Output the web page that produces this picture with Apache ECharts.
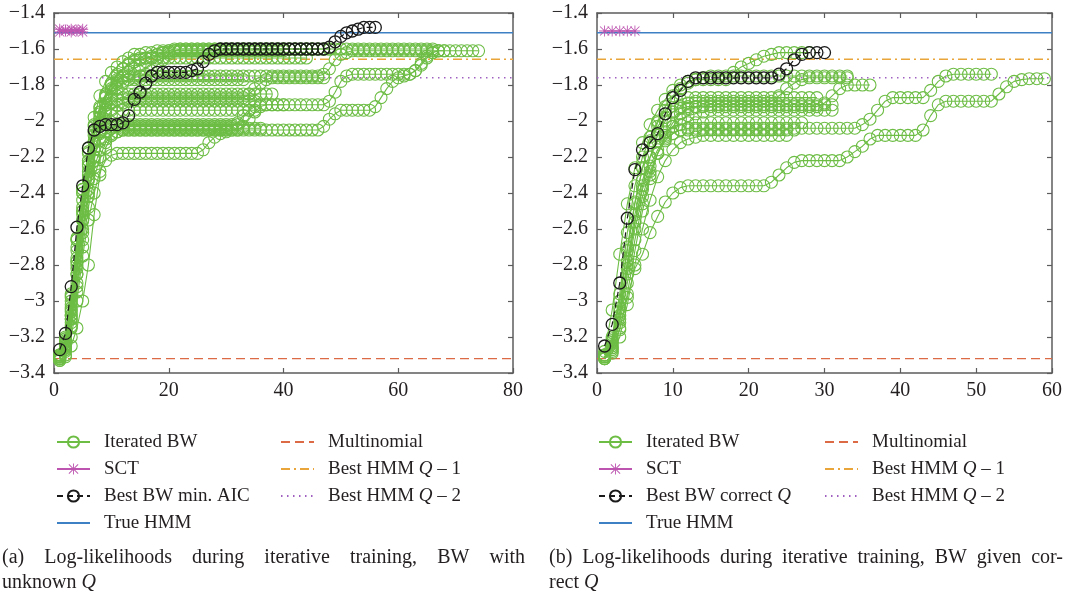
<!DOCTYPE html>
<html><head><meta charset="utf-8">
<script src="https://cdn.jsdelivr.net/npm/echarts@6/dist/echarts.min.js"></script>
<style>html,body{margin:0;padding:0;background:#fff}#c{width:1066px;height:598px}</style>
</head><body><div id="c"></div>
<script>
// ---------- axis ranges / ticks ----------
const yMin = -3.4, yMax = -1.4, yStep = 0.2;
const leftXMax = 80, leftXStep = 20;
const rightXMax = 60, rightXStep = 10;

// ---------- reference levels (both panels) ----------
const trueHMM = -1.51;
const multinomial = -3.32;
const bestQ1 = -1.657;
const bestQ2 = -1.76;

// ---------- SCT ----------
const sctLeftA = [-1.49,-1.50,-1.49,-1.50,-1.49];
const sctLeftB = [-1.505,-1.495,-1.505,-1.495,-1.505];
const sctRight = [-1.50,-1.50,-1.50,-1.50,-1.50];

// ---------- (a) best BW min. AIC ----------
const leftBest = [-3.27,-3.18,-2.92,-2.59,-2.36,-2.15,-2.05,-2.03,-2.02,-2.02,-2.02,-2.01,-1.97,-1.88,-1.84,-1.79,-1.75,-1.73,-1.73,-1.73,-1.73,-1.73,-1.73,-1.72,-1.71,-1.67,-1.63,-1.61,
-1.6,-1.6,-1.6,-1.6,-1.6, -1.6,-1.6,-1.6,-1.6,-1.6, -1.6,-1.6,-1.6,-1.6,-1.6, -1.6,-1.6,-1.6,-1.6,
-1.59,-1.56,-1.53,-1.51,-1.50,-1.49,-1.48,-1.48,-1.48];

// ---------- (a) iterated BW runs ----------
const leftA = [-3.31,-3.22,-3.00,-2.70,-2.40,-2.15,-1.98,-1.86,-1.78,-1.73,-1.70,-1.67,-1.65,-1.63,-1.63,-1.62,-1.62,-1.61,
-1.61,-1.61,-1.61,-1.61,-1.61, -1.61,-1.61,-1.61,-1.61,-1.61, -1.61,-1.61,
-1.6,-1.6,-1.6,-1.6,-1.6, -1.6,-1.6,-1.6,-1.6,-1.6, -1.6,-1.6,-1.6,-1.6,-1.6, -1.6,-1.6,-1.6];
const leftB = [-3.30,-3.24,-3.05,-2.80,-2.50,-2.25,-2.08,-1.95,-1.86,-1.79,-1.74,-1.71,-1.69,-1.67,-1.66,-1.65,-1.64,-1.63,-1.62,-1.62,
-1.61,-1.61,-1.61,-1.61,-1.61, -1.61,-1.61,-1.61,-1.61,-1.61, -1.61,-1.61,-1.61,-1.61,-1.61, -1.61,-1.61,-1.61,-1.61,-1.61];
const leftC = [-3.31,-3.25,-3.10,-2.85,-2.55,-2.30,-2.12,-1.98,-1.90,-1.83,-1.78,-1.75,-1.73,-1.71,-1.69,-1.67,-1.65,-1.63,-1.62,-1.61,
-1.6,-1.6,-1.6,-1.6,-1.6, -1.6,-1.6,-1.6,-1.6,-1.6, -1.6,-1.6,-1.6,-1.6,-1.6, -1.6,-1.6,-1.6,-1.6,-1.6,
-1.6,-1.6,-1.6,-1.6,-1.6, -1.6,-1.6,-1.6,-1.6,-1.6, -1.6,-1.6,-1.6,-1.6,-1.6, -1.6,-1.6,-1.6,-1.6,-1.6,
-1.6,-1.6,-1.6,-1.6,-1.6, -1.6];
const leftD = [-3.30,-3.20,-2.98,-2.65,-2.38,-2.18,-2.02,-1.92,-1.85,-1.80,-1.77,-1.76,
-1.75,-1.75,-1.75,-1.75,-1.75, -1.75,-1.75,-1.75,-1.75,-1.75, -1.75,-1.75,-1.75,-1.75,-1.75, -1.75,-1.75,-1.75,-1.75,-1.75,
-1.75,-1.75,-1.75,-1.75,-1.75, -1.75,-1.75,-1.75,-1.75,-1.75, -1.75,-1.75,-1.75,-1.75,
-1.74,-1.71,-1.66,-1.63,-1.62,
-1.61,-1.61,-1.61,-1.61,-1.61, -1.61,-1.61,-1.61,-1.61,-1.61, -1.61,-1.61,-1.61,-1.61,-1.61, -1.61];
const leftE = [-3.32,-3.26,-3.08,-2.78,-2.48,-2.24,-2.06,-1.95,-1.87,-1.82,-1.79,-1.78,
-1.77,-1.77,-1.77,-1.77,-1.77, -1.77,-1.77,-1.77,-1.77,-1.77, -1.77,-1.77,-1.77,-1.77,-1.77, -1.77,-1.77,-1.77,-1.77,-1.77, -1.77];
const leftF = [-3.31,-3.23,-3.02,-2.72,-2.44,-2.22,-2.06,-1.96,-1.91,-1.88,-1.86,
-1.85,-1.85,-1.85,-1.85,-1.85, -1.85,-1.85,-1.85,-1.85,-1.85, -1.85,-1.85,-1.85,-1.85,-1.85, -1.85,-1.85,-1.85,-1.85,-1.85,
-1.85,-1.85,-1.85,-1.85,-1.85, -1.85,-1.85];
const leftG = [-3.32,-3.27,-3.12,-2.90,-2.62,-2.38,-2.20,-2.07,-1.99,-1.94,-1.91,-1.90,
-1.89,-1.89,-1.89,-1.89,-1.89, -1.89,-1.89,-1.89,-1.89,-1.89, -1.89,-1.89,-1.89,-1.89,-1.89, -1.89,-1.89,-1.89,-1.89,-1.89, -1.89,-1.89,-1.89];
const leftH = [-3.31,-3.25,-3.08,-2.82,-2.55,-2.32,-2.16,-2.06,-2.00,-1.97,-1.95,
-1.94,-1.94,-1.94,-1.94,-1.94, -1.94,-1.94,-1.94,-1.94,-1.94, -1.94,-1.94,-1.94,-1.94,-1.94, -1.94,-1.94,-1.94,-1.94,-1.94, -1.94,-1.94,-1.94,-1.94];
const leftI = [-3.30,-3.21,-2.96,-2.66,-2.40,-2.22,-2.11,-2.06,-2.04,-2.03,
-2.02,-2.02,-2.02,-2.02,-2.02, -2.02,-2.02,-2.02,-2.02,-2.02, -2.02,-2.02,-2.02,-2.02,-2.02, -2.02,-2.02,-2.02,-2.02,-2.02, -2.02,-2.02];
const leftJ = [-3.32,-3.28,-3.15,-2.95,-2.70,-2.48,-2.32,-2.20,-2.12,-2.08,-2.06,
-2.05,-2.05,-2.05,-2.05,-2.05, -2.05,-2.05,-2.05,-2.05,-2.05, -2.05,-2.05,-2.05,-2.05,-2.05, -2.05,-2.05,-2.05,-2.05,-2.05, -2.05,
-2.03,-1.99,-1.95,-1.92,
-1.91,-1.91,-1.91,-1.91,-1.91, -1.91,-1.91,-1.91,-1.91,-1.91, -1.91,
-1.89,-1.84,-1.78,-1.75,
-1.74,-1.74,-1.74,-1.74,-1.74, -1.74,-1.74,-1.74,-1.74,-1.74, -1.74,
-1.72,-1.68,-1.64,-1.62,
-1.61,-1.61,-1.61,-1.61,-1.61, -1.61,-1.61,-1.61];
const leftK = [-3.33,-3.30,-3.20,-3.00,-2.75,-2.55,-2.40,-2.28,-2.22,-2.19,
-2.18,-2.18,-2.18,-2.18,-2.18, -2.18,-2.18,-2.18,-2.18,-2.18, -2.18,-2.18,-2.18,-2.18,-2.18,
-2.16,-2.12,-2.09,-2.07,-2.06,
-2.05,-2.05,-2.05,-2.05,-2.05, -2.05,-2.05,-2.05,-2.05,-2.05, -2.05,-2.05,-2.05,-2.05,-2.05, -2.05,
-2.03,-1.99,-1.96,
-1.94,-1.94,-1.94,-1.94,-1.94, -1.94,
-1.92,-1.87,-1.82,-1.78,-1.76,-1.75,-1.74,-1.72,-1.69,-1.65,-1.62,-1.61,-1.61];
const leftL = [-3.31,-3.26,-3.10,-2.85,-2.60,-2.40,-2.26,-2.16,-2.10,-2.07,-2.06,
-2.04,-2.04,-2.04,-2.04,-2.04, -2.04,-2.04,-2.04,-2.04,-2.04, -2.04,-2.04,-2.04,-2.04,-2.04, -2.04,-2.04,-2.04,-2.04,-2.04,
-2.04,-2.04,-2.04,-2.04,-2.04];
const leftM = [-3.30,-3.23,-3.04,-2.76,-2.50,-2.28,-2.12,-2.01,-1.94,-1.90,-1.88,
-1.87,-1.87,-1.87,-1.87,-1.87, -1.87,-1.87,-1.87,-1.87,-1.87, -1.87,-1.87,-1.87,-1.87,-1.87, -1.87,-1.87,-1.87,-1.87,-1.87, -1.87,-1.87,
-1.85,-1.82,-1.79,-1.77,
-1.76,-1.76,-1.76,-1.76,-1.76, -1.76,-1.76,-1.76,-1.76,-1.76];
const leftN = [-3.31,-3.24,-3.06,-2.78,-2.52,-2.33,-2.20,-2.11,-2.06,-2.04,
-2.03,-2.03,-2.03,-2.03,-2.03, -2.03,-2.03,-2.03,-2.03,-2.03, -2.03,-2.03,-2.03,-2.03,-2.03, -2.03,-2.03,-2.03,-2.03,-2.03, -2.03,
-2.01,-1.97,-1.94,-1.92,
-1.91,-1.91,-1.91,-1.91,-1.91];
const leftO = [-3.32,-3.27,-3.14,-2.92,-2.66,-2.42,-2.22,-2.06,-1.95,-1.87,-1.82,-1.79,-1.77,-1.76,-1.75,-1.74,-1.72,-1.69,-1.66,-1.63,-1.61,
-1.6,-1.6,-1.6,-1.6,-1.6, -1.6,-1.6,-1.6,-1.6,-1.6, -1.6,-1.6,-1.6,-1.6,-1.6, -1.6,-1.6,-1.6,-1.6,-1.6, -1.6,-1.6,-1.6,-1.6];
const leftP = [-3.30,-3.21,-2.97,-2.66,-2.38,-2.17,-2.03,-1.93,-1.86,-1.80,-1.75,-1.71,-1.68,-1.66,
-1.65,-1.65,-1.65,-1.65,-1.65, -1.65,-1.65,-1.65,-1.65,-1.65, -1.65,-1.65,-1.65,-1.65,-1.65, -1.65,-1.65,-1.65,-1.65,-1.65,
-1.65,-1.65,-1.65,-1.65,-1.65, -1.65,-1.65,-1.65,-1.65,-1.65];
const leftQ = [-3.33,-3.31,-3.25,-3.15,-3.00,-2.80,-2.52,-2.30,-2.15,-2.08,-2.06,
-2.05,-2.05,-2.05,-2.05,-2.05, -2.05,-2.05,-2.05,-2.05,-2.05, -2.05,-2.05,-2.05,-2.05,-2.05, -2.05,-2.05,-2.05,-2.05];

// ---------- (b) best BW correct Q ----------
const rightBest = [-3.25,-3.13,-2.90,-2.54,-2.27,-2.16,-2.12,-2.07,-1.96,-1.87,-1.83,-1.78,
-1.76,-1.76,-1.76,-1.76,-1.76, -1.76,-1.76,-1.76,-1.76,-1.76, -1.76,
-1.74,-1.71,-1.66,-1.63,-1.62,-1.62,-1.62];

// ---------- (b) iterated BW runs ----------
const right1 = [-3.31,-3.27,-3.15,-2.98,-2.82,-2.74,-2.62,-2.53,-2.45,-2.40,-2.37,
-2.36,-2.36,-2.36,-2.36,-2.36, -2.36,-2.36,-2.36,-2.36,-2.36, -2.36,
-2.34,-2.30,-2.26,-2.23,
-2.22,-2.22,-2.22,-2.22,-2.22, -2.22,
-2.20,-2.17,-2.14,-2.10,
-2.08,-2.08,-2.08,-2.08,-2.08, -2.08,
-2.05,-1.97,-1.91,
-1.89,-1.89,-1.89,-1.89,-1.89, -1.89,-1.89,
-1.85,-1.81,-1.78,-1.77,
-1.765,-1.765,-1.765];
const right2 = [-3.32,-3.26,-3.10,-2.85,-2.60,-2.42,-2.28,-2.18,-2.11,-2.07,-2.05,
-2.04,-2.04,-2.04,-2.04,-2.04, -2.04,-2.04,-2.04,-2.04,-2.04, -2.04,-2.04,-2.04,-2.04,-2.04, -2.04,-2.04,-2.04,-2.04,-2.04,
-2.04,-2.04,-2.04,
-2.02,-1.99,-1.94,-1.89,
-1.87,-1.87,-1.87,-1.87,-1.87,
-1.83,-1.78,-1.75,
-1.74,-1.74,-1.74,-1.74,-1.74, -1.74];
const right3 = [-3.30,-3.22,-3.00,-2.70,-2.45,-2.26,-2.12,-2.03,-1.98,-1.95,-1.93,
-1.92,-1.92,-1.92,-1.92,-1.92, -1.92,-1.92,-1.92,-1.92,-1.92, -1.92,-1.92,-1.92,-1.92,-1.92, -1.92,-1.92,-1.92,
-1.90,-1.86,-1.82,
-1.80,-1.80,-1.80,-1.80];
const right4 = [-3.28,-3.05,-2.74,-2.46,-2.26,-2.12,-2.02,-1.94,-1.88,-1.83,-1.80,-1.78,-1.77,-1.76,
-1.75,-1.75,-1.75,-1.75,-1.75, -1.75,-1.75,-1.75,-1.75,-1.75, -1.75,-1.75,-1.75,-1.75,-1.75, -1.75,-1.75,-1.75,-1.75];
const right5 = [-3.30,-3.20,-2.96,-2.62,-2.36,-2.20,-2.09,-2.00,-1.92,-1.86,-1.82,-1.79,
-1.77,-1.77,-1.77,-1.77,-1.77,
-1.73,-1.70,-1.68,-1.66,-1.64,-1.63,-1.62,
-1.62,-1.62,-1.62,-1.62];
const right6 = [-3.31,-3.25,-3.08,-2.82,-2.56,-2.36,-2.20,-2.08,-2.00,-1.95,-1.92,-1.90,
-1.89,-1.89,-1.89,-1.89,-1.89, -1.89,-1.89,-1.89,-1.89,-1.89, -1.89,
-1.86,-1.82,-1.79,-1.77,
-1.76,-1.76,-1.76,-1.76,-1.76, -1.76];
const right7 = [-3.32,-3.28,-3.16,-2.96,-2.72,-2.50,-2.32,-2.18,-2.08,-2.01,-1.96,-1.93,-1.92,
-1.91,-1.91,-1.91,-1.91,-1.91, -1.91,-1.91,-1.91,-1.91,-1.91, -1.91,-1.91,-1.91,-1.91,-1.91, -1.91,-1.91,-1.91];
const right8 = [-3.31,-3.26,-3.12,-2.90,-2.66,-2.46,-2.30,-2.18,-2.09,-2.03,-1.99,-1.97,-1.96,-1.95,
-1.94,-1.94,-1.94,-1.94,-1.94, -1.94,-1.94,-1.94,-1.94,-1.94, -1.94,-1.94,-1.94,-1.94,-1.94, -1.94,-1.94];
const right9 = [-3.30,-3.23,-3.04,-2.78,-2.52,-2.33,-2.20,-2.11,-2.06,-2.03,-2.02,
-2.01,-2.01,-2.01,-2.01,-2.01, -2.01,-2.01,-2.01,-2.01,-2.01, -2.01,-2.01,-2.01,-2.01,-2.01, -2.01];
const right10 = [-3.32,-3.29,-3.20,-3.02,-2.80,-2.60,-2.44,-2.31,-2.22,-2.16,-2.12,-2.10,-2.09,
-2.08,-2.08,-2.08,-2.08,-2.08, -2.08,-2.08,-2.08,-2.08,-2.08, -2.08,-2.08];
const right11 = [-3.30,-3.21,-3.00,-2.72,-2.46,-2.26,-2.11,-2.01,-1.94,-1.90,-1.88,
-1.87,-1.87,-1.87,-1.87,-1.87, -1.87,-1.87,-1.87,-1.87,-1.87, -1.87,-1.87,-1.87,-1.87,-1.87, -1.87,-1.87,-1.87];
const right12 = [-3.31,-3.24,-3.06,-2.80,-2.56,-2.38,-2.25,-2.16,-2.10,-2.07,
-2.05,-2.05,-2.05,-2.05,-2.05, -2.05,-2.05,-2.05,-2.05,-2.05, -2.05,-2.05,-2.05,-2.05,-2.05, -2.05];

const leftRuns = [leftA,leftB,leftC,leftD,leftE,leftF,leftG,leftH,leftI,leftJ,leftK,leftL,leftM,leftN,leftO,leftP,leftQ];
const rightRuns = [right1,right2,right3,right4,right5,right6,right7,right8,right9,right10,right11,right12];

// ---------- text ----------
const legendCol1Left = ['Iterated BW','SCT','Best BW min. AIC','True HMM'];
const legendCol1Right = ['Iterated BW','SCT','Best BW correct Q','True HMM'];
const legendCol2 = ['Multinomial','Best HMM Q – 1','Best HMM Q – 2'];
const captionA1 = ['(a)','Log-likelihoods','during','iterative','training,','BW','with'];
const captionA2 = 'unknown {i|Q}';
const captionB1 = ['(b)','Log-likelihoods','during','iterative','training,','BW','given','cor-'];
const captionB2 = 'rect {i|Q}';

// ---------- styles ----------
const FONT = 'Liberation Serif';
const TXT = '#231f20';
const GREEN = '#6dbd45', BLACK = '#1a1a1a', MAG = '#bd55b0', BLUE = '#3d80c3', RED = '#dc6a44', ORANGE = '#eaa53a', PURPLE = '#a060c0';
const AXC = '#5c5c5c';
const STAR = 'path://M9.2,0L10.8,0L10.8,20L9.2,20Z M0,9.2L20,9.2L20,10.8L0,10.8Z M2.3,1.2L18.8,17.7L17.7,18.8L1.2,2.3Z M17.7,1.2L18.8,2.3L2.3,18.8L1.2,17.7Z';

const chart = echarts.init(document.getElementById('c'), null, {renderer:'canvas'});

function fmtY(v){ const r = Math.round(v*10)/10; return String(r).replace('-', '\u2212'); }
const labelStyle = {color:TXT, fontFamily:FONT, fontSize:20};
function xAxis(grid, max, step, pos, labels){
  return {type:'value', gridIndex:grid, min:0, max:max, interval:step, position:pos,
    axisLine:{show:true, onZero:false, lineStyle:{color:AXC, width:1.5}},
    axisTick:{show:true, inside:true, length:5, lineStyle:{color:AXC, width:1.2}},
    axisLabel:Object.assign({show:labels, margin:8}, labelStyle),
    splitLine:{show:false}};
}
function yAxis(grid, pos, labels){
  return {type:'value', gridIndex:grid, min:yMin, max:yMax, interval:yStep, position:pos,
    axisLine:{show:true, onZero:false, lineStyle:{color:AXC, width:1.5}},
    axisTick:{show:true, inside:true, length:5, lineStyle:{color:AXC, width:1.2}},
    axisLabel:Object.assign({show:labels, margin:9, formatter:fmtY}, labelStyle),
    splitLine:{show:false}};
}
const pts = arr => arr.map((v,i)=>[i+1, v]);
const base = {type:'line', animation:false, silent:true, emphasis:{disabled:true}};

function runSeries(arr, ai){
  return Object.assign({}, base, {name:'Iterated BW', xAxisIndex:ai, yAxisIndex:ai, data:pts(arr),
    symbol:'circle', symbolSize:12, showSymbol:true, showAllSymbol:true, z:3,
    lineStyle:{color:GREEN, width:1.1},
    itemStyle:{color:'rgba(255,255,255,0)', borderColor:GREEN, borderWidth:1.1, borderType:'solid'}});
}
function bestSeries(name, arr, ai){
  return Object.assign({}, base, {name:name, xAxisIndex:ai, yAxisIndex:ai, data:pts(arr),
    symbol:'circle', symbolSize:12, showSymbol:true, showAllSymbol:true, z:6,
    lineStyle:{color:BLACK, width:1.2, type:[6,4]},
    itemStyle:{color:'rgba(255,255,255,0)', borderColor:BLACK, borderWidth:1.3, borderType:'solid'}});
}
function sctSeries(arr, ai){
  return Object.assign({}, base, {name:'SCT', xAxisIndex:ai, yAxisIndex:ai, data:pts(arr),
    symbol:STAR, symbolSize:11, showSymbol:true, showAllSymbol:true, z:5,
    lineStyle:{color:MAG, width:1.2}, itemStyle:{color:MAG, borderWidth:0}});
}
function hline(name, v, xmax, ai, color, type, w){
  return Object.assign({}, base, {name:name, xAxisIndex:ai, yAxisIndex:ai, data:[[0,v],[xmax,v]],
    symbol:'circle', showSymbol:false, z:2, lineStyle:{color:color, width:w, type:type},
    itemStyle:{color:'rgba(255,255,255,0)', borderWidth:0}});
}

const series = [];
[[0, leftXMax],[2, rightXMax]].forEach(([ai, xm])=>{
  series.push(hline('True HMM', trueHMM, xm, ai, BLUE, 'solid', 1.6));
  series.push(hline('Multinomial', multinomial, xm, ai, RED, [9,5], 1.4));
  series.push(hline('Best HMM Q – 1', bestQ1, xm, ai, ORANGE, [9,4,2,4], 1.3));
  series.push(hline('Best HMM Q – 2', bestQ2, xm, ai, PURPLE, [1.5,4.5], 1.5));
});
leftRuns.forEach(r=>series.push(runSeries(r, 0)));
rightRuns.forEach(r=>series.push(runSeries(r, 2)));
series.push(sctSeries(sctLeftA, 0));
series.push(sctSeries(sctLeftB, 0));
series.push(sctSeries(sctRight, 2));
series.push(bestSeries('Best BW min. AIC', leftBest, 0));
series.push(bestSeries('Best BW correct Q', rightBest, 2));

const legTxt = {fontFamily:FONT, fontSize:19, color:TXT, lineHeight:20, padding:[0,0,0,9],
  rich:{i:{fontFamily:FONT, fontSize:19, color:TXT, fontStyle:'italic', lineHeight:20}}};
function legend(names, left){
  return {data:names, left:left, top:432, orient:'vertical', itemWidth:33, itemHeight:14, itemGap:7,
    padding:0, selectedMode:false, textStyle:legTxt, formatter:n=>n.replace('Q','{i|Q}')};
}

// captions: justify first line between two x positions
const cv = document.createElement('canvas').getContext('2d');
const CAP_SIZE = 20;
cv.font = CAP_SIZE + "px 'Liberation Serif'";
function justified(words, x0, x1, y){
  const ws = words.map(w=>cv.measureText(w).width);
  const tot = ws.reduce((a,b)=>a+b,0);
  const gap = (x1-x0-tot)/(words.length-1);
  let x = x0; const out = [];
  words.forEach((w,i)=>{ out.push({type:'text', left:x, top:y, style:{text:w, fill:TXT, font:CAP_SIZE+"px 'Liberation Serif'"}}); x += ws[i]+gap; });
  return out;
}
function plain(t, x, y){
  return {type:'text', left:x, top:y, style:{text:t, fill:TXT, font:CAP_SIZE+"px 'Liberation Serif'",
    rich:{i:{fontStyle:'italic', fontFamily:'Liberation Serif', fontSize:CAP_SIZE, fill:TXT}}}};
}
const graphic = [].concat(
  justified(captionA1, 2, 525, 548),
  [plain(captionA2, 2, 573)],
  justified(captionB1, 549, 1063, 548),
  [plain(captionB2, 549, 573)]
);

chart.setOption({
  backgroundColor:'#fff',
  animation:false,
  grid:[{left:54, top:13, width:459, height:360}, {left:597, top:13, width:455, height:360}],
  xAxis:[xAxis(0, leftXMax, leftXStep, 'bottom', true), xAxis(0, leftXMax, leftXStep, 'top', false),
         xAxis(1, rightXMax, rightXStep, 'bottom', true), xAxis(1, rightXMax, rightXStep, 'top', false)],
  yAxis:[yAxis(0,'left',true), yAxis(0,'right',false), yAxis(1,'left',true), yAxis(1,'right',false)],
  legend:[legend(legendCol1Left, 56), legend(legendCol2, 280), legend(legendCol1Right, 598), legend(legendCol2, 824)],
  series:series,
  graphic:graphic
});
</script></body></html>
